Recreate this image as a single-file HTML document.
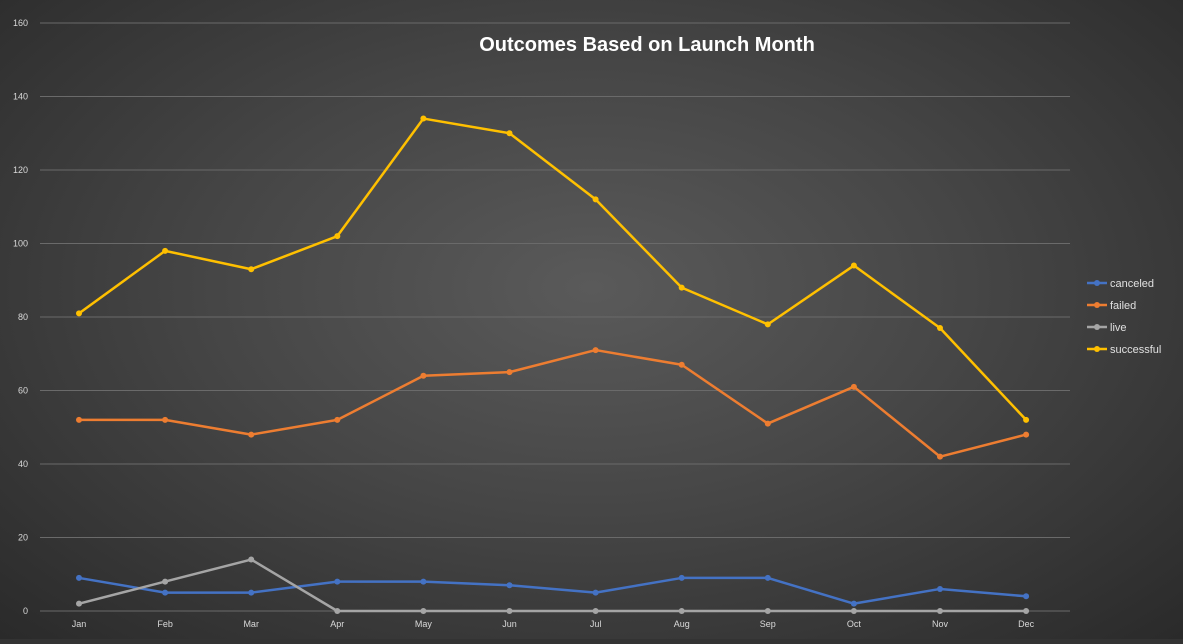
<!DOCTYPE html>
<html><head><meta charset="utf-8"><style>
body{margin:0;width:1183px;height:639px;overflow:hidden;background:#333}
#c{position:absolute;left:0;top:0;width:1183px;height:639px;background:radial-gradient(ellipse at 50% 45%,#5a5a5a 0%,#464646 45%,#2a2a2a 100%)}
svg text{font-family:"Liberation Sans",sans-serif}
</style></head><body>
<div id="c">
<svg id="s" width="1183" height="639"></svg>
</div>
<script>
const months=["Jan","Feb","Mar","Apr","May","Jun","Jul","Aug","Sep","Oct","Nov","Dec"];
const canceled=[9,5,5,8,8,7,5,9,9,2,6,4];
const failed=[52,52,48,52,64,65,71,67,51,61,42,48];
const live=[2,8,14,0,0,0,0,0,0,0,0,0];
const successful=[81,98,93,102,134,130,112,88,78,94,77,52];
const yTicks=[0,20,40,60,80,100,120,140,160];
const seriesNames=["canceled","failed","live","successful"];
const seriesColors=["#4472C4","#ED7D31","#A5A5A5","#FFC000"];
const seriesData=[canceled,failed,live,successful];
const NS="http://www.w3.org/2000/svg",s=document.getElementById("s");
const x=i=>79+i*86.1, y=v=>611-v*(588/160);
function el(t,a,p){const e=document.createElementNS(NS,t);for(const k in a)e.setAttribute(k,a[k]);(p||s).appendChild(e);return e;}
yTicks.forEach(t=>{
 const l=el("line",{x1:40,x2:1070,y1:y(t),y2:y(t),stroke:"#6a6a6a","stroke-width":1});
 
 
 const tx=el("text",{x:28,y:y(t)+3,"text-anchor":"end","font-size":9,fill:"#d9d9d9"});tx.textContent=t;
 
 
});
months.forEach((m,i)=>{
 const tx=el("text",{x:x(i),y:627,"text-anchor":"middle","font-size":9,fill:"#d9d9d9"});tx.textContent=m;
 
 
});
const title=el("text",{x:647,y:51,"text-anchor":"middle","font-size":20,"font-weight":"bold",fill:"#fff"});
title.textContent="Outcomes Based on Launch Month";


seriesData.forEach((d,k)=>{
 const g=el("g",{});
 
 
 el("polyline",{points:d.map((v,i)=>x(i)+","+y(v)).join(" "),fill:"none",stroke:seriesColors[k],"stroke-width":2.5,"stroke-linejoin":"round"},g);
 d.forEach((v,i)=>{const c=el("circle",{cx:x(i),cy:y(v),r:3,fill:seriesColors[k]},g);
  
  });
 const ly=283+k*22;
 const lg=el("g",{});
 
 
 el("line",{x1:1087,x2:1107,y1:ly,y2:ly,stroke:seriesColors[k],"stroke-width":2.5},lg);
 el("circle",{cx:1097,cy:ly,r:3,fill:seriesColors[k]},lg);
 const t=el("text",{x:1110,y:ly+4,"font-size":11,fill:"#e0e0e0"},lg);t.textContent=seriesNames[k];
});
</script>
</body></html>
